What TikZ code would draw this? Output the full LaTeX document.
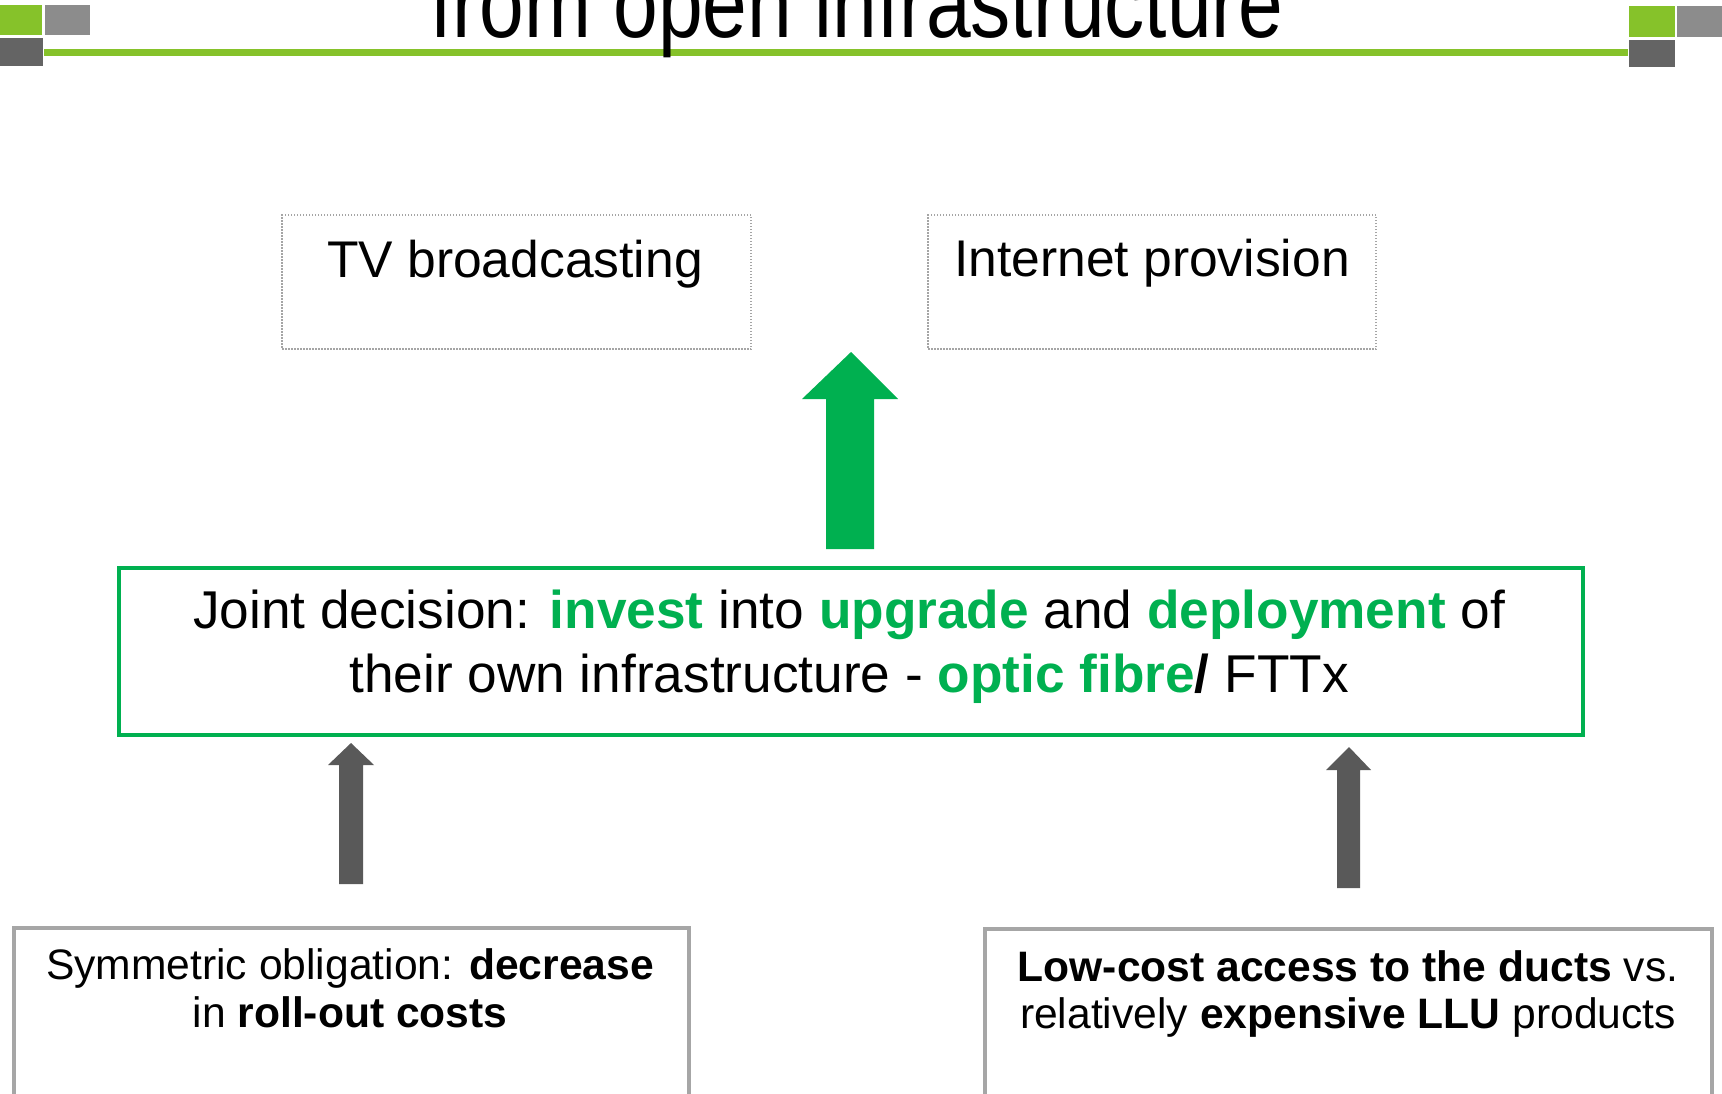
\documentclass[tikz,border=0pt]{standalone}
\usepackage{fontspec}
\setmainfont{Liberation Sans}
\newfontfamily\titlefont[FakeStretch=0.82]{Liberation Sans}
\definecolor{lime}{RGB}{134,194,42}
\definecolor{gr}{RGB}{0,176,80}
\definecolor{arrgray}{RGB}{89,89,89}
\definecolor{boxgray}{RGB}{166,166,166}
\definecolor{dotgray}{RGB}{165,165,165}
\definecolor{sqlight}{RGB}{140,140,140}
\definecolor{sqdark}{RGB}{100,100,100}
\begin{document}
\begin{tikzpicture}[x=0.5pt,y=-0.5pt,
  dotbox/.style={draw=dotgray, dash pattern=on 0.75pt off 0.75pt, line width=0.75pt, inner sep=0pt, outer sep=0pt},
  mainbox/.style={draw=gr, line width=2.25pt, inner sep=0pt, outer sep=0pt},
  graybox/.style={draw=boxgray, line width=2pt, inner sep=0pt, outer sep=0pt},
  toptext/.style={anchor=base, inner sep=0pt, font=\fontsize{25.8}{30}\selectfont},
  maintext/.style={anchor=base, inner sep=0pt, font=\fontsize{26.6}{32}\selectfont},
  bottext/.style={anchor=base, inner sep=0pt, font=\fontsize{21.3}{24}\selectfont},
  greenarrow/.style={fill=gr},
  grayarrow/.style={fill=arrgray}]
\useasboundingbox (0,0) rectangle (1722,1093);
\clip (0,0) rectangle (1722,1093);

% header decoration
\fill[lime] (0,5) rectangle (42,35);
\fill[sqlight] (45,5) rectangle (90,35);
\fill[sqdark] (0,38) rectangle (43,66);
\fill[lime] (1629,6) rectangle (1675,37);
\fill[sqlight] (1677,6) rectangle (1722,37);
\fill[sqdark] (1629,40) rectangle (1675,67);
\draw[lime, line width=3.5pt] (44,52.5) -- (1628,52.5);
\node[anchor=base, inner sep=0pt, font=\titlefont\fontsize{49}{55}\selectfont] (title) at (857,37) {from open infrastructure};

% top boxes
\node[dotbox, minimum width=469*0.5pt, minimum height=134*0.5pt] (tvbox) at (516.5,282) {};
\node[toptext] (tvtext) at (515,277) {TV broadcasting};
\node[dotbox, minimum width=448*0.5pt, minimum height=134*0.5pt] (netbox) at (1152,282) {};
\node[toptext] (nettext) at (1152,276) {Internet provision};

% big green arrow
\fill[greenarrow] (851,352) -- (898,399) -- (874,399) -- (874,549) -- (826,549) -- (826,399) -- (802,399) -- cycle;

% main box
\node[mainbox, minimum width=1464*0.5pt, minimum height=167*0.5pt] (main) at (851,651.5) {};
\node[maintext] (mainl1) at (849,628) {Joint decision: \textcolor{gr}{\textbf{invest}} into \textcolor{gr}{\textbf{upgrade}} and \textcolor{gr}{\textbf{deployment}} of};
\node[maintext] (mainl2) at (849,692) {their own infrastructure - \textcolor{gr}{\textbf{optic fibre}}\textbf{/} FTTx};

% gray arrows
\fill[grayarrow] (351,743) -- (374,765) -- (363,765) -- (363,884) -- (339,884) -- (339,765) -- (328,765) -- cycle;
\fill[grayarrow] (1349,747) -- (1371,770) -- (1360,770) -- (1360,888) -- (1337,888) -- (1337,770) -- (1326,770) -- cycle;

% bottom boxes
\node[graybox, minimum width=675*0.5pt, minimum height=222*0.5pt] (leftbox) at (351,1038.5) {};
\node[bottext] (leftl1) at (350,979) {Symmetric obligation: \textbf{decrease}};
\node[bottext] (leftl2) at (350,1027) {in \textbf{roll-out costs}};
\node[graybox, minimum width=727*0.5pt, minimum height=222*0.5pt] (rightbox) at (1348.5,1040) {};
\node[bottext] (rightl1) at (1348,981) {\textbf{Low-cost access to the ducts} vs.};
\node[bottext] (rightl2) at (1348,1028) {relatively \textbf{expensive LLU} products};
\end{tikzpicture}
\end{document}
